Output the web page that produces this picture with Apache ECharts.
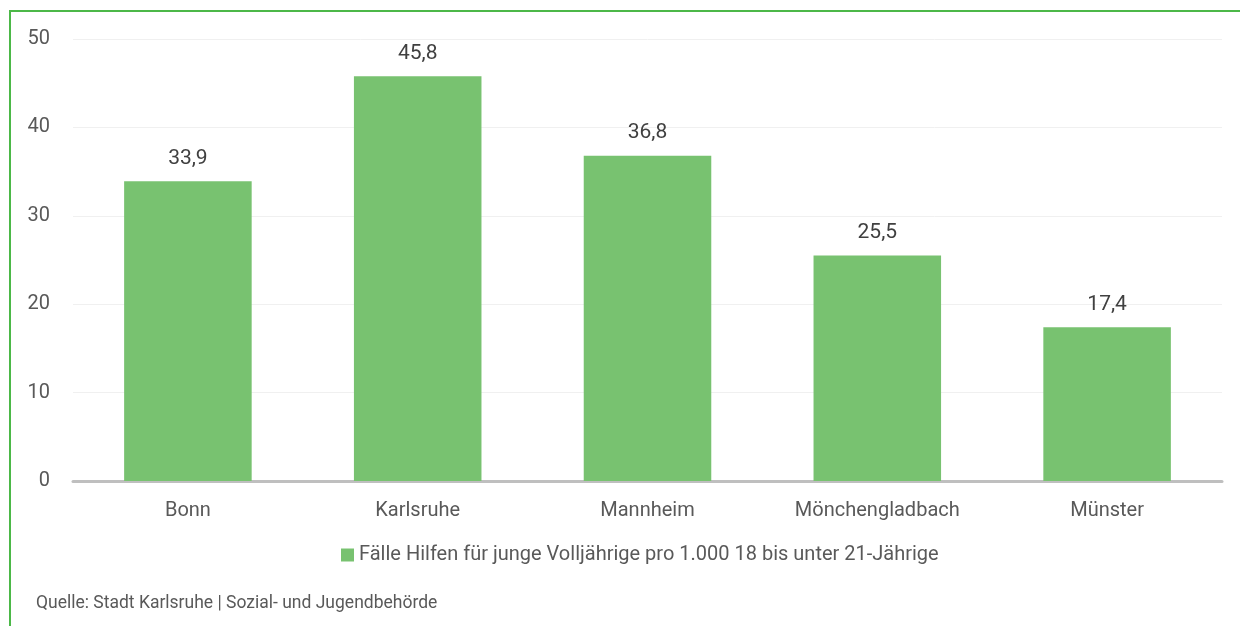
<!DOCTYPE html>
<html>
<head>
<meta charset="utf-8">
<script src="https://cdn.jsdelivr.net/npm/echarts@6/dist/echarts.min.js"></script>
<style>
html,body{margin:0;padding:0;background:#fff;}
#frame{position:absolute;left:9px;top:10px;width:1240px;height:626px;border-top:2px solid #4cb848;border-left:2px solid #4cb848;box-sizing:border-box;}
#c{position:absolute;left:0;top:0;width:1240px;height:626px;}
</style>
</head>
<body>
<div id="frame"></div>
<div id="c"></div>
<script>
const categories = ['Bonn', 'Karlsruhe', 'Mannheim', 'Mönchengladbach', 'Münster'];
const values = [33.9, 45.8, 36.8, 25.5, 17.4];
const seriesName = 'Fälle Hilfen für junge Volljährige pro 1.000 18 bis unter 21-Jährige';
const sourceText = 'Quelle: Stadt Karlsruhe | Sozial- und Jugendbehörde';

const chart = echarts.init(document.getElementById('c'));
const font = 'Roboto';
chart.setOption({
  animation: false,
  textStyle: {fontFamily: font},
  grid: {left: 73, right: 18, top: 39, bottom: 145},
  graphic: [{
    type: 'text', left: 36, top: 595,
    style: {text: sourceText, fill: '#595959', font: '17.5px ' + font}
  }],
  legend: {
    bottom: 56, left: 336,
    itemWidth: 13, itemHeight: 13, itemGap: 6,
    icon: 'rect',
    textStyle: {color: '#595959', fontSize: 20, fontFamily: font},
    data: [seriesName]
  },
  xAxis: {
    type: 'category', data: categories,
    axisLine: {lineStyle: {color: '#bfbfbf', width: 3}},
    axisTick: {show: false},
    axisLabel: {color: '#595959', fontSize: 20, margin: 20}
  },
  yAxis: {
    type: 'value', min: 0, max: 50, interval: 10,
    axisLine: {show: false}, axisTick: {show: false},
    axisLabel: {color: '#595959', fontSize: 20, margin: 23},
    splitLine: {lineStyle: {color: '#f0f0f0', width: 1}}
  },
  series: [{
    name: seriesName, type: 'bar', data: values,
    barWidth: '55.5%',
    itemStyle: {color: '#78c270'},
    label: {
      show: true, position: 'top', distance: 12,
      color: '#404040', fontSize: 21,
      formatter: p => String(p.value.toFixed(1)).replace('.', ',')
    }
  }]
});
</script>
</body>
</html>
